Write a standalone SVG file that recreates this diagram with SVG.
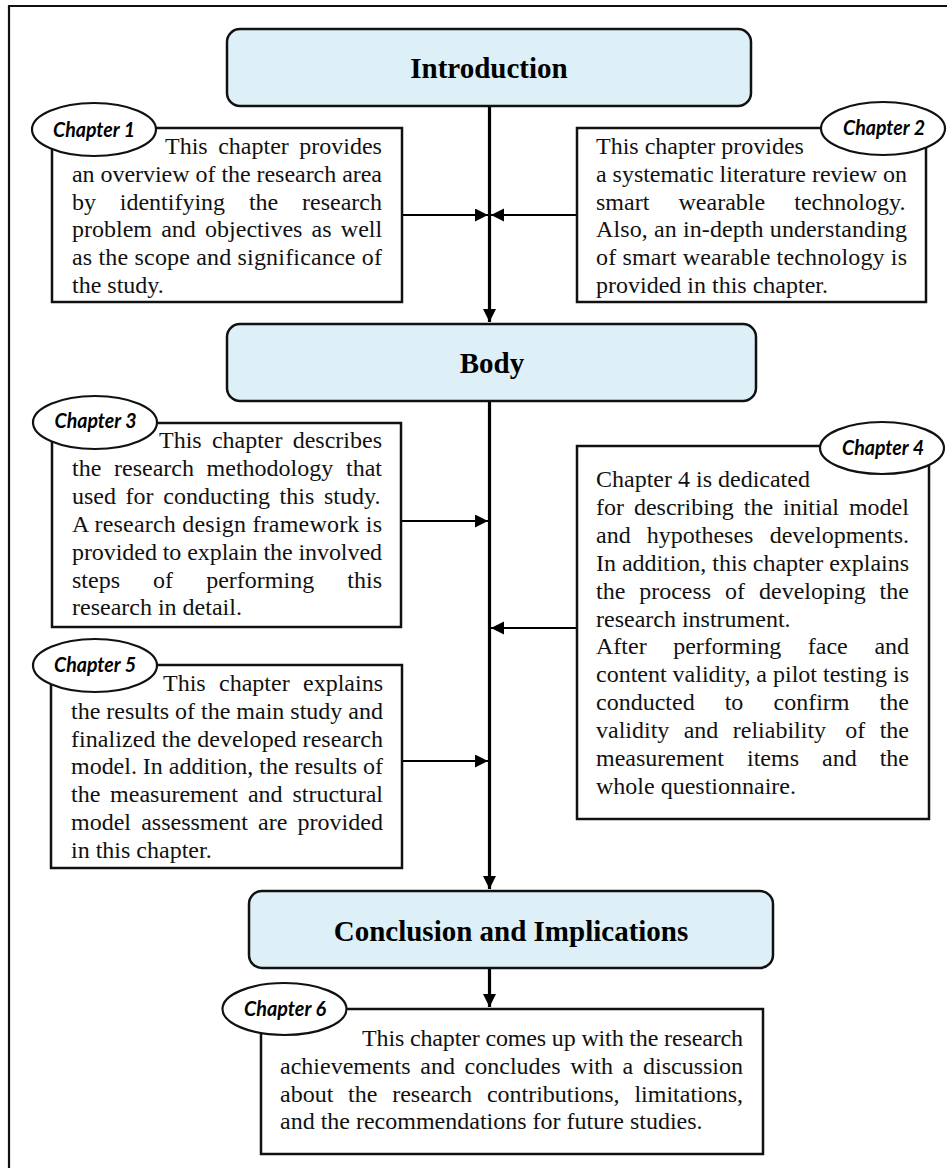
<svg xmlns="http://www.w3.org/2000/svg" width="947" height="1168" viewBox="0 0 947 1168">
<defs>
<style>
.frame{fill:none;stroke:#111;stroke-width:2.2}
.hbox{fill:#DDEFF7;stroke:#111;stroke-width:2.5}
.box{fill:#fff;stroke:#111;stroke-width:2.5}
.ell{fill:#fff;stroke:#111;stroke-width:2.2}
.main{fill:none;stroke:#000;stroke-width:3.2}
.side{fill:none;stroke:#000;stroke-width:2}
.h{font-family:"Liberation Serif","Times New Roman",serif;font-weight:bold;font-size:29px;text-anchor:middle;fill:#000}
.t{font-family:"Liberation Serif","Times New Roman",serif;font-size:24px;fill:#111}
.lbl{font-family:Lato,"Open Sans",sans-serif;font-weight:bold;font-style:italic;font-size:20px;text-anchor:middle;fill:#000}
</style>
<marker id="ah" markerUnits="userSpaceOnUse" markerWidth="14" markerHeight="14" refX="13" refY="6.5" orient="auto">
<path d="M0,0 L13,6.5 L0,13 z" fill="#000"/>
</marker>
</defs>
<rect width="947" height="1168" fill="#fff"/>
<g id="frame"><path class="frame" d="M9,1168 V6 H947"/></g>

<g id="connectors">
<path class="main" d="M489.5,106 V322" marker-end="url(#ah)"/>
<path class="main" d="M489.5,401 V889" marker-end="url(#ah)"/>
<path class="main" d="M489.5,968 V1007" marker-end="url(#ah)"/>
<path class="side" d="M402,215 H488" marker-end="url(#ah)"/>
<path class="side" d="M577,215 H491" marker-end="url(#ah)"/>
<path class="side" d="M401,521 H488" marker-end="url(#ah)"/>
<path class="side" d="M577,628 H491" marker-end="url(#ah)"/>
<path class="side" d="M402,761 H488" marker-end="url(#ah)"/>
</g>

<g id="intro">
<rect class="hbox" x="227" y="29" width="524" height="77" rx="13"/>
<text class="h" x="489" y="78">Introduction</text>
</g>
<g id="body">
<rect class="hbox" x="227" y="324" width="529" height="77" rx="13"/>
<text class="h" x="492" y="373">Body</text>
</g>
<g id="conclusion">
<rect class="hbox" x="249" y="891" width="524" height="77" rx="13"/>
<text class="h" x="511" y="941">Conclusion and Implications</text>
</g>

<g id="ch1">
<rect class="box" x="52" y="128" width="350" height="174"/>
<ellipse class="ell" cx="94" cy="129.5" rx="62" ry="26.5"/>
<text class="lbl" x="94" y="137" textLength="82" lengthAdjust="spacingAndGlyphs">Chapter 1</text>
<text class="t" y="154"><tspan x="165">This</tspan><tspan x="218.2">chapter</tspan><tspan x="299.3">provides</tspan></text>
<text class="t" x="72" y="181.8" textLength="310" lengthAdjust="spacing">an overview of the research area</text>
<text class="t" y="209.6"><tspan x="72">by</tspan><tspan x="119.8">identifying</tspan><tspan x="248.9">the</tspan><tspan x="302">research</tspan></text>
<text class="t" y="237.4"><tspan x="72">problem</tspan><tspan x="161.2">and</tspan><tspan x="205.1">objectives</tspan><tspan x="311.6">as</tspan><tspan x="340.8">well</tspan></text>
<text class="t" x="72" y="265.2" textLength="310" lengthAdjust="spacing">as the scope and significance of</text>
<text class="t" x="72" y="293">the study.</text>
</g>

<g id="ch2">
<rect class="box" x="577" y="128" width="349" height="174"/>
<ellipse class="ell" cx="883" cy="128.5" rx="62" ry="26.5"/>
<text class="lbl" x="884" y="135" textLength="82" lengthAdjust="spacingAndGlyphs">Chapter 2</text>
<text class="t" x="596" y="154">This chapter provides</text>
<text class="t" x="596" y="181.8" textLength="311" lengthAdjust="spacing">a systematic literature review on</text>
<text class="t" y="209.6"><tspan x="596">smart</tspan><tspan x="678.5">wearable</tspan><tspan x="794.3">technology.</tspan></text>
<text class="t" x="596" y="237.4" textLength="311" lengthAdjust="spacing">Also, an in-depth understanding</text>
<text class="t" x="596" y="265.2" textLength="311" lengthAdjust="spacing">of smart wearable technology is</text>
<text class="t" x="596" y="293">provided in this chapter.</text>
</g>

<g id="ch3">
<rect class="box" x="52" y="423" width="349" height="204"/>
<ellipse class="ell" cx="95" cy="422.5" rx="62" ry="26.5"/>
<text class="lbl" x="95.5" y="428" textLength="82" lengthAdjust="spacingAndGlyphs">Chapter 3</text>
<text class="t" y="448"><tspan x="159">This</tspan><tspan x="211.9">chapter</tspan><tspan x="292.7">describes</tspan></text>
<text class="t" y="475.9"><tspan x="72">the</tspan><tspan x="114">research</tspan><tspan x="206.6">methodology</tspan><tspan x="346">that</tspan></text>
<text class="t" y="503.8"><tspan x="72">used</tspan><tspan x="125.6">for</tspan><tspan x="163.3">conducting</tspan><tspan x="279.6">this</tspan><tspan x="324">study.</tspan></text>
<text class="t" x="72" y="531.7" textLength="310" lengthAdjust="spacing">A research design framework is</text>
<text class="t" x="72" y="559.6" textLength="310" lengthAdjust="spacing">provided to explain the involved</text>
<text class="t" y="587.5"><tspan x="72">steps</tspan><tspan x="153.1">of</tspan><tspan x="206.2">performing</tspan><tspan x="347.3">this</tspan></text>
<text class="t" x="72" y="615.4">research in detail.</text>
</g>

<g id="ch4">
<rect class="box" x="577" y="446" width="352" height="373"/>
<ellipse class="ell" cx="882" cy="448" rx="62" ry="26"/>
<text class="lbl" x="883" y="455" textLength="82" lengthAdjust="spacingAndGlyphs">Chapter 4</text>
<text class="t" x="596" y="487">Chapter 4 is dedicated</text>
<text class="t" y="514.9"><tspan x="596">for</tspan><tspan x="633.9">describing</tspan><tspan x="743.8">the</tspan><tspan x="783">initial</tspan><tspan x="848.9">model</tspan></text>
<text class="t" y="542.8"><tspan x="596">and</tspan><tspan x="646.8">hypotheses</tspan><tspan x="769.7">developments.</tspan></text>
<text class="t" x="596" y="570.7" textLength="313" lengthAdjust="spacing">In addition, this chapter explains</text>
<text class="t" y="598.6"><tspan x="596">the</tspan><tspan x="639.2">process</tspan><tspan x="725.1">of</tspan><tspan x="759">developing</tspan><tspan x="879.6">the</tspan></text>
<text class="t" x="596" y="626.5">research instrument.</text>
<text class="t" y="654.4"><tspan x="596">After</tspan><tspan x="673.2">performing</tspan><tspan x="807.8">face</tspan><tspan x="874.4">and</tspan></text>
<text class="t" x="596" y="682.3" textLength="313" lengthAdjust="spacing">content validity, a pilot testing is</text>
<text class="t" y="710.2"><tspan x="596">conducted</tspan><tspan x="724.7">to</tspan><tspan x="773.5">confirm</tspan><tspan x="879.6">the</tspan></text>
<text class="t" y="738.1"><tspan x="596">validity</tspan><tspan x="683.7">and</tspan><tspan x="732.8">reliability</tspan><tspan x="845.3">of</tspan><tspan x="879.7">the</tspan></text>
<text class="t" y="766"><tspan x="596">measurement</tspan><tspan x="747">items</tspan><tspan x="822">and</tspan><tspan x="879.7">the</tspan></text>
<text class="t" x="596" y="793.9">whole questionnaire.</text>
</g>

<g id="ch5">
<rect class="box" x="51" y="665" width="351" height="203"/>
<ellipse class="ell" cx="95" cy="665.5" rx="62" ry="26.5"/>
<text class="lbl" x="95" y="672" textLength="82" lengthAdjust="spacingAndGlyphs">Chapter 5</text>
<text class="t" y="691"><tspan x="163">This</tspan><tspan x="219">chapter</tspan><tspan x="303">explains</tspan></text>
<text class="t" x="71" y="718.8" textLength="312" lengthAdjust="spacing">the results of the main study and</text>
<text class="t" x="71" y="746.6" textLength="312" lengthAdjust="spacing">finalized the developed research</text>
<text class="t" x="71" y="774.4" textLength="312" lengthAdjust="spacing">model. In addition, the results of</text>
<text class="t" y="802.2"><tspan x="71">the</tspan><tspan x="110.1">measurement</tspan><tspan x="247.9">and</tspan><tspan x="292.4">structural</tspan></text>
<text class="t" y="830"><tspan x="71">model</tspan><tspan x="141.2">assessment</tspan><tspan x="258.1">are</tspan><tspan x="297.6">provided</tspan></text>
<text class="t" x="71" y="857.8">in this chapter.</text>
</g>

<g id="ch6">
<rect class="box" x="261" y="1009" width="502" height="145"/>
<ellipse class="ell" cx="284.5" cy="1009" rx="62" ry="26"/>
<text class="lbl" x="285" y="1016" textLength="82" lengthAdjust="spacingAndGlyphs">Chapter 6</text>
<text class="t" x="362" y="1046" textLength="381" lengthAdjust="spacing">This chapter comes up with the research</text>
<text class="t" y="1073.8"><tspan x="280">achievements</tspan><tspan x="420.3">and</tspan><tspan x="464.6">concludes</tspan><tspan x="570.3">with</tspan><tspan x="622.6">a</tspan><tspan x="643">discussion</tspan></text>
<text class="t" y="1101.6"><tspan x="280">about</tspan><tspan x="348.1">the</tspan><tspan x="392.2">research</tspan><tspan x="486.9">contributions,</tspan><tspan x="634.4">limitations,</tspan></text>
<text class="t" x="280" y="1129.4">and the recommendations for future studies.</text>
</g>
</svg>
